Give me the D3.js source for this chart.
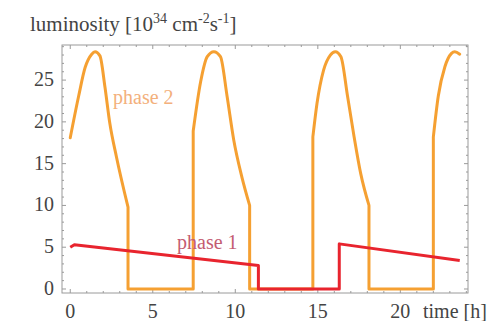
<!DOCTYPE html>
<html>
<head>
    <title>Luminosity phases</title>
    <script src="https://d3js.org/d3.v7.min.js"></script>
    <style>
        body { margin: 0; background: #fff; }
        text { font-family: "Liberation Serif", "DejaVu Serif", serif; }
        .frame { fill: none; stroke: #9a9a9a; stroke-width: 1; }
        .tick line { stroke: #9a9a9a; }
        .lbl { font-size: 20px; fill: #444; }
    </style>
</head>
<body>
<script>
    // phase 2 (orange), vertical jumps share the same hour
    var phase2Hours = [0, 0.5, 0.9, 1.3, 1.5, 1.8, 2.1, 2.4, 2.8, 3.5, 3.5,
        7.45, 7.45, 7.9, 8.3, 8.7, 9.1, 9.5, 9.9, 10.4, 10.87, 10.87,
        14.7, 14.7, 14.95, 15.35, 15.76, 16.06, 16.4, 16.8, 17.2, 17.6, 18.1, 18.1,
        22.0, 22.0, 22.3, 22.7, 23.1, 23.3, 23.6];
    var phase2Lumi = [18.1, 23.0, 26.5, 28.1, 28.4, 27.9, 24.2, 19.8, 15.8, 9.8, 0,
        0, 18.9, 24.8, 27.8, 28.4, 27.8, 23.1, 17.9, 13.4, 10.0, 0,
        0, 18.2, 22.2, 26.2, 28.0, 28.4, 27.8, 23.1, 18.2, 13.8, 10.0, 0,
        0, 18.2, 23.1, 26.6, 28.2, 28.4, 28.1];

    // phase 1 (red)
    var phase1Hours = [0, 0.25, 11.4, 11.4, 16.3, 16.3, 23.6];
    var phase1Lumi = [5.0, 5.3, 2.8, 0, 0, 5.4, 3.4];

    var xTicks = [0, 5, 10, 15, 20];
    var yTicks = [0, 5, 10, 15, 20, 25];

    var W = 497, H = 321;
    var pLeft = 62, pRight = 468, pTop = 45, pBottom = 293;

    var svg = d3.select("body").append("svg")
        .attr("width", W)
        .attr("height", H);

    var x = d3.scaleLinear().domain([-0.5, 24.1]).range([pLeft, pRight]);
    var y = d3.scaleLinear().domain([-0.48, 29.2]).range([pBottom, pTop]);

    // frame with inward ticks on all four sides
    var minorX = d3.range(0, 25, 1), minorY = d3.range(0, 30, 1);
    var tk = svg.append("g").attr("class", "tick");
    minorX.forEach(function (v) {
        var len = v % 5 === 0 ? 4 : 2;
        tk.append("line").attr("x1", x(v)).attr("x2", x(v)).attr("y1", pBottom).attr("y2", pBottom - len);
        tk.append("line").attr("x1", x(v)).attr("x2", x(v)).attr("y1", pTop).attr("y2", pTop + len);
    });
    minorY.filter(v => y(v) > pTop).forEach(function (v) {
        var len = v % 5 === 0 ? 4 : 2;
        tk.append("line").attr("y1", y(v)).attr("y2", y(v)).attr("x1", pLeft).attr("x2", pLeft + len);
        tk.append("line").attr("y1", y(v)).attr("y2", y(v)).attr("x1", pRight).attr("x2", pRight - len);
    });
    svg.append("rect").attr("class", "frame")
        .attr("x", pLeft).attr("y", pTop)
        .attr("width", pRight - pLeft).attr("height", pBottom - pTop);

    svg.append("g").selectAll("text").data(xTicks).enter().append("text")
        .attr("class", "lbl")
        .attr("x", d => x(d)).attr("y", 318)
        .attr("text-anchor", "middle")
        .text(d => d);

    svg.append("g").selectAll("text").data(yTicks).enter().append("text")
        .attr("class", "lbl")
        .attr("x", 54).attr("y", d => y(d) + 6)
        .attr("text-anchor", "end")
        .text(d => d);

    svg.append("text").attr("class", "lbl")
        .attr("x", 423).attr("y", 318)
        .text("time [h]");

    // title with superscripts
    var title = svg.append("text").attr("class", "lbl")
        .attr("x", 30).attr("y", 31).style("font-size", "21px");
    title.append("tspan").text("luminosity [10");
    title.append("tspan").attr("dy", -8).style("font-size", "14px").text("34");
    title.append("tspan").attr("dy", 8).text(" cm");
    title.append("tspan").attr("dy", -8).style("font-size", "14px").text("-2");
    title.append("tspan").attr("dy", 8).text("s");
    title.append("tspan").attr("dy", -8).style("font-size", "14px").text("-1");
    title.append("tspan").attr("dy", 8).text("]");

    // split a trace into smooth runs and straight vertical jumps
    function pieces(hours, lumi) {
        var pts = hours.map((h, i) => [h, lumi[i]]);
        var out = [], cur = [pts[0]];
        for (var i = 1; i < pts.length; i++) {
            if (pts[i][0] === pts[i - 1][0]) {
                out.push(cur);
                out.push([pts[i - 1], pts[i]]);
                cur = [pts[i]];
            } else {
                cur.push(pts[i]);
            }
        }
        out.push(cur);
        return out.filter(p => p.length > 1);
    }

    var smooth = d3.line().x(d => x(d[0])).y(d => y(d[1])).curve(d3.curveMonotoneX);
    var straight = d3.line().x(d => x(d[0])).y(d => y(d[1]));

    svg.append("path")
        .attr("d", pieces(phase2Hours, phase2Lumi).map(p => smooth(p)).join(""))
        .attr("fill", "none")
        .attr("stroke", "#f5a032")
        .attr("stroke-width", 3)
        .attr("stroke-linecap", "round")
        .attr("stroke-linejoin", "round");

    svg.append("path")
        .attr("d", straight(phase1Hours.map((h, i) => [h, phase1Lumi[i]])))
        .attr("fill", "none")
        .attr("stroke", "#e8242e")
        .attr("stroke-width", 3)
        .attr("stroke-linejoin", "round");

    svg.append("text").attr("x", 113).attr("y", 104)
        .style("font-size", "20px").style("fill", "#f3b07c")
        .text("phase 2");
    svg.append("text").attr("x", 177).attr("y", 249)
        .style("font-size", "20px").style("fill", "#c45c72")
        .text("phase 1");
</script>
</body>
</html>
